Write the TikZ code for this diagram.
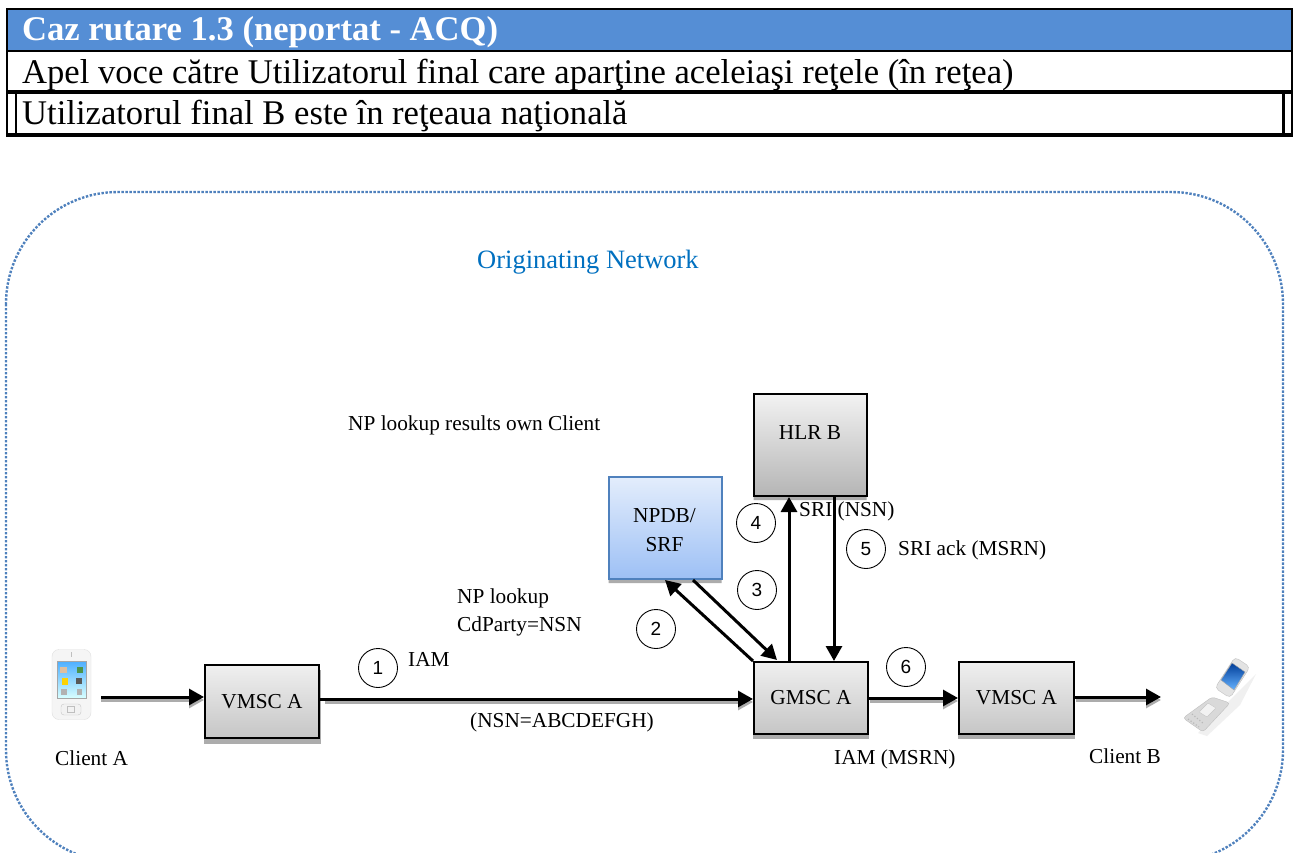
\documentclass[tikz,border=0pt]{standalone}
\usepackage{fontspec}
\setmainfont{Liberation Serif}
\usetikzlibrary{arrows.meta,shapes.geometric,shadows,calc}
\definecolor{headblue}{HTML}{558ED5}
\definecolor{dotblue}{HTML}{4F81BD}
\definecolor{orignet}{HTML}{0070C0}
\definecolor{cyltop}{HTML}{E3EDFC}
\definecolor{cylbot}{HTML}{9DC0F5}
\tikzset{
 x=1pt,y=-1pt,
 netbox/.style={draw=black,line width=2pt,top color=gray!12,bottom color=gray!45,minimum width=114pt,minimum height=73pt,inner sep=0pt,font=\fontsize{21.3}{24}\selectfont},
 boxshadow/.style={fill=gray!65,draw=none},
 dbcyl/.style={cylinder,shape border rotate=90,aspect=0.6,draw,line width=2pt,minimum width=113pt,minimum height=102pt,inner sep=0pt},
 cyltext/.style={align=center,inner sep=0pt,font=\fontsize{21.3}{29}\selectfont},
 arr/.style={line width=3pt,-{Triangle[length=15pt,width=16pt]}},
 arrsh/.style={line width=3pt,gray!65,-{Triangle[length=15pt,width=16pt]}},
 num/.style={circle,draw,line width=0.9pt,minimum size=39pt,inner sep=0pt,font=\fontsize{19}{20}\selectfont\sffamily},
 lab/.style={font=\fontsize{21.3}{24}\selectfont,inner sep=0pt,anchor=base west},
 rowtext/.style={font=\fontsize{34.6}{36}\selectfont,inner sep=0pt,anchor=base west},
}
\setsansfont{Liberation Sans}
\begin{document}
\begin{tikzpicture}
\useasboundingbox (0,0) rectangle (1293,853);
\fill[white] (0,0) rectangle (1293,853);
% table
\fill[headblue] (7,9) rectangle (1292,51);
\draw[line width=1.5pt] (7,9) -- (7,135);
\draw[line width=1.5pt] (1292,9) -- (1292,135);
\draw[line width=2.2pt] (6,9) -- (1293,9);
\draw[line width=2.2pt] (6,51) -- (1293,51);
\draw[line width=4pt] (6,92) -- (1293,92);
\draw[line width=3.4pt] (6,135) -- (1293,135);
\draw[line width=2.4pt] (16,92) -- (16,135);
\draw[line width=2.4pt] (1283.5,92) -- (1283.5,135);
\node[rowtext,text=white,font=\bfseries\fontsize{34.6}{36}\selectfont] (t1) at (22,41) {Caz rutare 1.3 (neportat - ACQ)};
\node[rowtext] (t2) at (22,84) {Apel voce către Utilizatorul final care aparţine aceleiaşi reţele (în reţea)};
\node[rowtext] (t3) at (22,125) {Utilizatorul final B este în reţeaua naţională};
% network boundary
\begin{scope}
\clip (0,0) rectangle (1293,853);
\draw[dotblue,line width=2.4pt,dash pattern=on 2.4pt off 1.6pt,rounded corners=112pt] (6,192) rectangle (1283,862);
\end{scope}
\node[lab,text=orignet,font=\fontsize{26.5}{28}\selectfont] (net) at (477,268) {Originating Network};
\node[lab] (res) at (348,430) {NP lookup results own Client};
% phone A
\node[draw=gray!25,fill=gray!8,rounded corners=7pt,minimum width=39pt,minimum height=70pt,inner sep=0pt] (phA) at (71.5,684.5) {};
\fill[gray!50] (70.5,652) rectangle (71.5,657);
\shade[top color=blue!45!cyan!70,bottom color=cyan!15,draw=gray!70] (57,661) rectangle (86,698);
\fill[yellow!70!orange] (62,678) rectangle (68,685);
\fill[brown!50] (60,667) rectangle (67,673);
\fill[green!40!black!70] (77,667) rectangle (83,673);
\fill[gray!70!black] (76,678) rectangle (82,684);
\fill[gray!60] (61,689) rectangle (67,695);
\fill[gray!60] (77,689) rectangle (82,695);
\draw[gray!45,fill=gray!10,rounded corners=3pt] (61,704) rectangle (81,715);
\draw[gray!50] (67.5,706.5) rectangle (74.5,712.5);
% phone B
\fill[gray!12] (1256,674) -- (1240,705) -- (1207,736) -- (1198,733) -- (1235,695) -- cycle;
\fill[gray!30,draw=gray!50,rounded corners=3pt] (1212,697) -- (1230,703) -- (1203,732) -- (1183,718) -- cycle;
\fill[gray!22,draw=gray!50,rounded corners=4pt] (1235,657) -- (1250,667) -- (1230,698) -- (1215,688) -- cycle;
\fill[gray!10,draw=gray!45,rounded corners=1pt] (1208,703) -- (1216,708) -- (1207,717) -- (1199,712) -- cycle;
\shade[top color=blue!60!cyan!60!black,bottom color=cyan!50!blue!60,draw=gray!70] (1232,663) -- (1245,672) -- (1234,690) -- (1221,680) -- cycle;
\draw[gray!55,line width=1.2pt,dotted] (1192,714) -- (1204,724);
\draw[gray!55,line width=1.2pt,dotted] (1188,719) -- (1199,727);
% boxes
\fill[boxshadow] (204,670) rectangle (321,743.5);
\fill[boxshadow] (753,667) rectangle (869,739);
\fill[boxshadow] (958,667) rectangle (1075,739);
\node[netbox] (vmsc1) at (262,701.5) {VMSC A};
\node[netbox,minimum height=72pt] (gmsc) at (811,698) {GMSC A};
\node[netbox,minimum height=72pt,minimum width=115pt] (vmsc2) at (1016.5,698) {VMSC A};
% cylinders
\node[dbcyl,draw=dotblue,top color=cyltop,bottom color=cylbot,drop shadow={shadow xshift=0pt,shadow yshift=-4pt,fill=gray!65,opacity=1}] (npdb) at (665,528.5) {};
\node[dbcyl,top color=gray!10,bottom color=gray!58,drop shadow={shadow xshift=0pt,shadow yshift=-4pt,fill=gray!65,opacity=1}] (hlr) at (810,445.5) {};
\node[cyltext] (npdbt) at (664.5,530) {NPDB/\\SRF};
\node[cyltext] (hlrt) at (810,433) {HLR B};
% phone anchors
\coordinate (aout) at ($(phA.east)+(10,12.5)$);
\coordinate (bend) at (1161,697);
% shadows of horizontal arrows
\draw[arrsh] ($(aout)+(0,3)$) -- ($(vmsc1.west|-aout)+(0,3)$);
\draw[arrsh] (325,702) -- ($(gmsc.west)+(0,4)$);
\draw[arrsh] (870,701) -- ($(vmsc2.west)+(0,3)$);
\draw[arrsh] (1076,700) -- ($(bend)+(0,3)$);
% arrows
\draw[arr] (aout) -- (vmsc1.west|-aout);
\draw[arr] (vmsc1.east|-0,699) -- (gmsc.west|-0,699);
\draw[arr] (gmsc.east) ++(0,0) -- (vmsc2.west);
\draw[arr] (vmsc2.east|-bend) -- (bend);
\draw[arr] (gmsc.north west) -- (npdb.south);
\draw[arr] ($(npdb.south)+(28,0)$) -- ($(gmsc.north west)+(24,-1)$);
\draw[arr] ($(gmsc.north)+(-22,0)$) -- (hlr.south-|789,0);
\draw[arr] (hlr.south-|834,0) -- ($(gmsc.north)+(23,0)$);
% labels
\node[lab] (iam) at (408,666) {IAM};
\node[lab] (nsn) at (470,727) {(NSN=ABCDEFGH)};
\node[lab] (lk1) at (457,603) {NP lookup};
\node[lab] (lk2) at (457,631) {CdParty=NSN};
\node[lab] (sri) at (799,516) {SRI (NSN)};
\node[lab] (ack) at (898,555) {SRI ack (MSRN)};
\node[lab] (iam2) at (834,764) {IAM (MSRN)};
\node[lab] (ca) at (55,765) {Client A};
\node[lab] (cb) at (1089,763) {Client B};
% numbers
\node[num] (n1) at (378,668) {1};
\node[num] (n2) at (656,629) {2};
\node[num] (n3) at (757,590) {3};
\node[num] (n4) at (756,523) {4};
\node[num] (n5) at (866,549) {5};
\node[num] (n6) at (906,667) {6};
\end{tikzpicture}
\end{document}
